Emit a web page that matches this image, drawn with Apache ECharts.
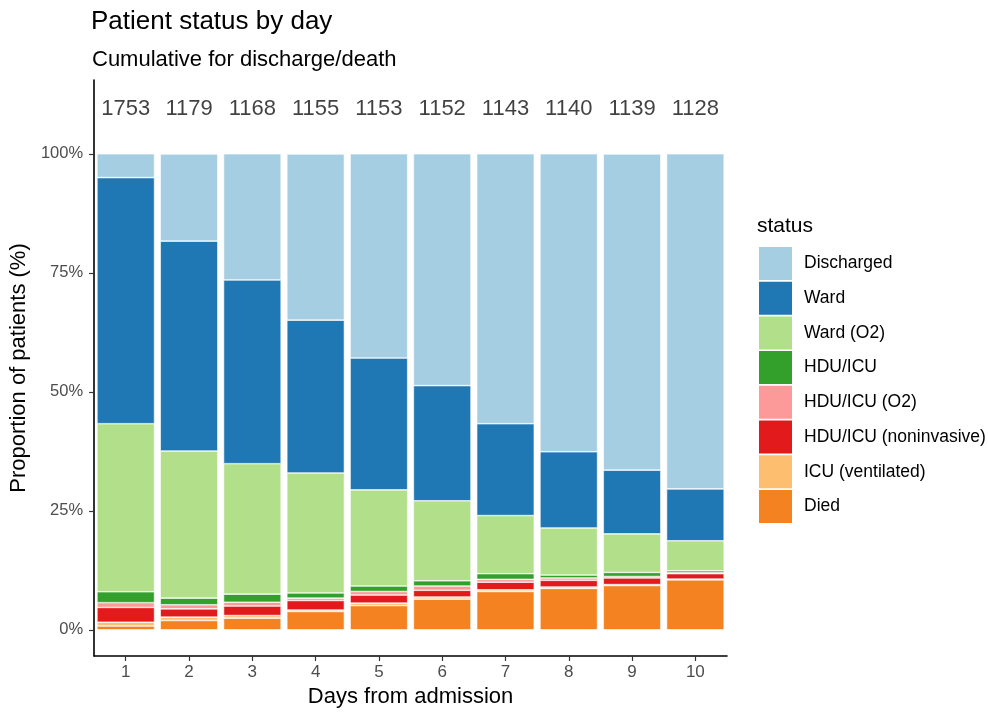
<!DOCTYPE html>
<html>
<head>
<meta charset="utf-8">
<script src="https://cdn.jsdelivr.net/npm/echarts@6/dist/echarts.min.js"></script>
<style>html,body{margin:0;padding:0;background:#fff;}#chart{width:988px;height:715px;}</style>
</head>
<body>
<div id="chart"></div>
<script>
const days = ['1','2','3','4','5','6','7','8','9','10'];
const counts = [1753,1179,1168,1155,1153,1152,1143,1140,1139,1128];
const discharged = [5.0,18.3,26.5,34.9,42.9,48.7,56.7,62.6,66.4,70.4];
const ward = [51.7,44.1,38.6,32.1,27.7,24.2,19.3,16.0,13.4,10.9];
const wardO2 = [35.3,30.9,27.4,25.2,20.2,16.8,12.2,9.9,8.1,6.3];
const hduIcu = [2.3,1.4,1.7,1.1,1.15,1.1,1.2,0.6,0.85,0.4];
const hduO2 = [1.0,0.85,0.8,0.5,0.75,0.9,0.6,0.5,0.3,0.2];
const hduNIV = [3.1,1.75,2.0,2.0,1.7,1.4,1.6,1.4,1.4,1.15];
const icuVent = [0.8,0.7,0.55,0.3,0.5,0.45,0.35,0.3,0.2,0.15];
const died = [0.8,1.96,2.45,3.85,5.1,6.45,8.05,8.7,9.3,10.5];
const yTicks = [0,25,50,75,100];

const FONT = 'Liberation Sans, Arial, Helvetica, sans-serif';
const statusNames = ['Discharged','Ward','Ward (O2)','HDU/ICU','HDU/ICU (O2)','HDU/ICU (noninvasive)','ICU (ventilated)','Died'];
const statusData = [discharged, ward, wardO2, hduIcu, hduO2, hduNIV, icuVent, died];
const statusColors = ['#a6cee3','#1f78b4','#b2df8a','#33a02c','#fb9a99','#e31a1c','#fdbf6f','#f58220'];
const COUNT_LEVEL = 109.5; // height (in axis units) where the patient counts are written

const series = [];
for (let i = statusNames.length - 1; i >= 0; i--) {
  series.push({
    name: statusNames[i],
    type: 'bar',
    stack: 'total',
    barWidth: '91%',
    data: statusData[i],
    itemStyle: { color: statusColors[i], borderColor: '#ffffff', borderWidth: 0.6 },
    emphasis: { disabled: true },
    silent: true
  });
}
series.push({
  name: 'n',
  type: 'scatter',
  data: counts.map(() => COUNT_LEVEL),
  symbolSize: 1,
  itemStyle: { color: 'rgba(0,0,0,0)' },
  silent: true,
  label: {
    show: true,
    position: 'inside',
    color: '#111111',
    textBorderWidth: 0,
    textBorderColor: 'transparent',
    fontFamily: FONT,
    fontSize: 22,
    formatter: p => String(counts[p.dataIndex])
  }
});

const chart = echarts.init(document.getElementById('chart'), null, { renderer: 'canvas' });
chart.setOption({
  backgroundColor: '#ffffff',
  animation: false,
  textStyle: { fontFamily: FONT },
  title: [
    { text: 'Patient status by day', left: 91, top: 9, padding: 0,
      textStyle: { fontFamily: FONT, fontSize: 26, fontWeight: 'normal', color: '#000' } },
    { text: 'Cumulative for discharge/death', left: 92, top: 49, padding: 0,
      textStyle: { fontFamily: FONT, fontSize: 22, fontWeight: 'normal', color: '#000' } },
    { text: 'status', left: 757, top: 216, padding: 0,
      textStyle: { fontFamily: FONT, fontSize: 21, fontWeight: 'normal', color: '#000' } }
  ],
  legend: {
    data: statusNames,
    orient: 'vertical',
    left: 759,
    top: 247,
    padding: 0,
    itemWidth: 33,
    itemHeight: 33,
    itemGap: 1.7,
    icon: 'rect',
    selectedMode: false,
    itemStyle: { borderWidth: 0 },
    textStyle: { fontFamily: FONT, fontSize: 17.5, color: '#000', padding: [0,0,0,7] }
  },
  grid: { left: 93, right: 261, top: 80, bottom: 59, containLabel: false },
  xAxis: {
    type: 'category',
    data: days,
    boundaryGap: true,
    name: 'Days from admission',
    nameLocation: 'middle',
    nameGap: 28,
    nameTextStyle: { fontFamily: FONT, fontSize: 22, color: '#000' },
    axisLine: { show: true, onZero: false, lineStyle: { color: '#000', width: 1.6 } },
    axisTick: { show: true, alignWithLabel: true, length: 5, lineStyle: { color: '#333', width: 1.2 } },
    axisLabel: { fontFamily: FONT, fontSize: 17, color: '#4d4d4d', margin: 8 },
    splitLine: { show: false }
  },
  yAxis: {
    type: 'value',
    min: -5.5,
    max: 115.5,
    name: 'Proportion of patients (%)',
    nameLocation: 'middle',
    nameGap: 61,
    nameTextStyle: { fontFamily: FONT, fontSize: 22, color: '#000' },
    axisLine: { show: true, lineStyle: { color: '#000', width: 1.6 } },
    axisTick: { show: true, length: 5, customValues: yTicks, lineStyle: { color: '#333', width: 1.2 } },
    axisLabel: { fontFamily: FONT, fontSize: 16.5, color: '#4d4d4d', margin: 11,
      customValues: yTicks, formatter: v => v + '%' },
    splitLine: { show: false }
  },
  series: series
});
</script>
</body>
</html>
